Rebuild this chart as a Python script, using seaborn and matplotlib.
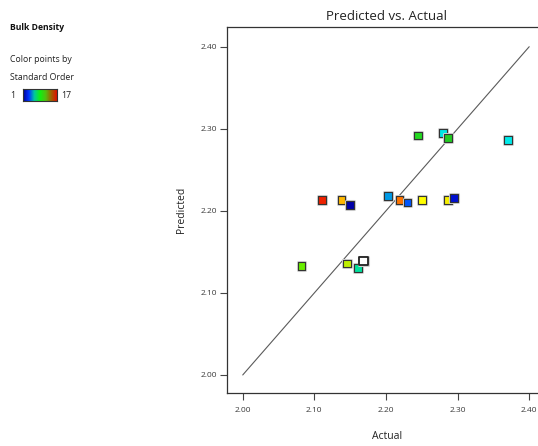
import numpy as np
import pandas as pd
import matplotlib
matplotlib.use("Agg")
import matplotlib.pyplot as plt
import matplotlib.patheffects as pe
from matplotlib.colors import LinearSegmentedColormap
import seaborn as sns

# Bulk density: actual vs. model-predicted values, one entry per run
actual = [2.111, 2.138, 2.150, 2.082, 2.146, 2.161, 2.169,
          2.245, 2.280, 2.287, 2.370, 2.203, 2.219, 2.230,
          2.250, 2.287, 2.295]
predicted = [2.213, 2.213, 2.207, 2.133, 2.136, 2.130, 2.139,
             2.292, 2.295, 2.289, 2.286, 2.218, 2.213, 2.210,
             2.213, 2.213, 2.216]
std_order = [17, 14, 1, 10, 11, 7, 16,
             9, 5, 8, 6, 4, 15, 3,
             12, 13, 2]
selected_run = 16

axis_ticks = [2.00, 2.10, 2.20, 2.30, 2.40]
tick_labels = ["2.00", "2.10", "2.20", "2.30", "2.40"]

sns.set_theme(style="white")
plt.rcParams["font.family"] = ["Open Sans", "DejaVu Sans"]

order_cmap = LinearSegmentedColormap.from_list(
    "std_order",
    [(0.0, "#0000a8"), (1 / 16, "#0010d0"), (2 / 16, "#0055ff"),
     (3 / 16, "#0099e6"), (4 / 16, "#00e5e5"), (5 / 16, "#00eaea"),
     (6 / 16, "#00e0a0"), (7 / 16, "#22cc22"), (8 / 16, "#22d822"),
     (9 / 16, "#66ee00"), (10 / 16, "#bbee00"), (11 / 16, "#ffff00"),
     (12 / 16, "#f5f000"), (13 / 16, "#ffbb00"), (14 / 16, "#ff7700"),
     (15 / 16, "#f04400"), (1.0, "#ee2200")])
bar_cmap = LinearSegmentedColormap.from_list(
    "std_order_bar", ["#000090", "#0030ff", "#00c8a0", "#10f010",
                      "#50c010", "#a06000", "#e01000"])

df = pd.DataFrame({"Actual": actual, "Predicted": predicted,
                   "Order": std_order})
df_main = df[df["Order"] != selected_run]
df_sel = df[df["Order"] == selected_run]

fig = plt.figure(figsize=(5.38, 4.46), dpi=100)
ax = fig.add_axes([0.4219, 0.1188, 0.5937, 0.8206])

lo, hi = 1.978, 2.424
ax.plot([2.0, 2.4], [2.0, 2.4], color="#5a5a5a", lw=0.8, zorder=1)

halo = [pe.withStroke(linewidth=2.2, foreground="#d0d0d0")]
sns.scatterplot(data=df_main, x="Actual", y="Predicted", hue="Order",
                palette=order_cmap, hue_norm=(1, 17), marker="s",
                s=30, edgecolor="#333333", linewidth=0.8,
                legend=False, ax=ax, zorder=3)
ax.collections[-1].set_path_effects(halo)
sns.scatterplot(data=df_sel, x="Actual", y="Predicted", color="white",
                marker="s", s=38, edgecolor="#222222", linewidth=1.3,
                legend=False, ax=ax, zorder=4)
ax.collections[-1].set_path_effects(halo)

ax.set_xlim(lo, hi)
ax.set_ylim(lo, hi)
ax.set_xticks(axis_ticks)
ax.set_xticklabels(tick_labels)
ax.set_yticks(axis_ticks)
ax.set_yticklabels(tick_labels)
ax.tick_params(axis="both", direction="out", length=5, width=0.8,
               color="#444444", labelsize=6, labelcolor="#3a3a3a",
               pad=5, bottom=True, left=True)
ax.tick_params(axis="y", pad=2)
for side in ["left", "bottom", "top", "right"]:
    ax.spines[side].set_color("#333333")
    ax.spines[side].set_linewidth(0.9)
ax.set_xlabel("Actual", fontsize=7.5, color="#222222", labelpad=12)
ax.set_ylabel("Predicted", fontsize=7.5, color="#222222", labelpad=10)
ax.set_title("Predicted vs. Actual", fontsize=9.5, color="#222222", pad=5)

# Side legend describing the colouring
fig.text(10 / 538, 1 - 28 / 446, "Bulk Density", fontsize=6.2,
         fontweight="bold", color="#111111", va="center")
fig.text(10 / 538, 1 - 60 / 446, "Color points by", fontsize=6.3,
         color="#222222", va="center")
fig.text(10 / 538, 1 - 77 / 446, "Standard Order", fontsize=6.3,
         color="#222222", va="center")
fig.text(10 / 538, 1 - 95 / 446, "1", fontsize=6.3, color="#222222",
         va="center")
fig.text(61 / 538, 1 - 95 / 446, "17", fontsize=6.3, color="#222222",
         va="center")
cax = fig.add_axes([23 / 538, 1 - 101 / 446, 34 / 538, 12 / 446])
cax.imshow(np.linspace(0, 1, 256)[None, :], aspect="auto", cmap=bar_cmap)
cax.set_xticks([])
cax.set_yticks([])
for sp in cax.spines.values():
    sp.set_color("#333333")
    sp.set_linewidth(0.8)

fig.savefig("out.png", dpi=100)
